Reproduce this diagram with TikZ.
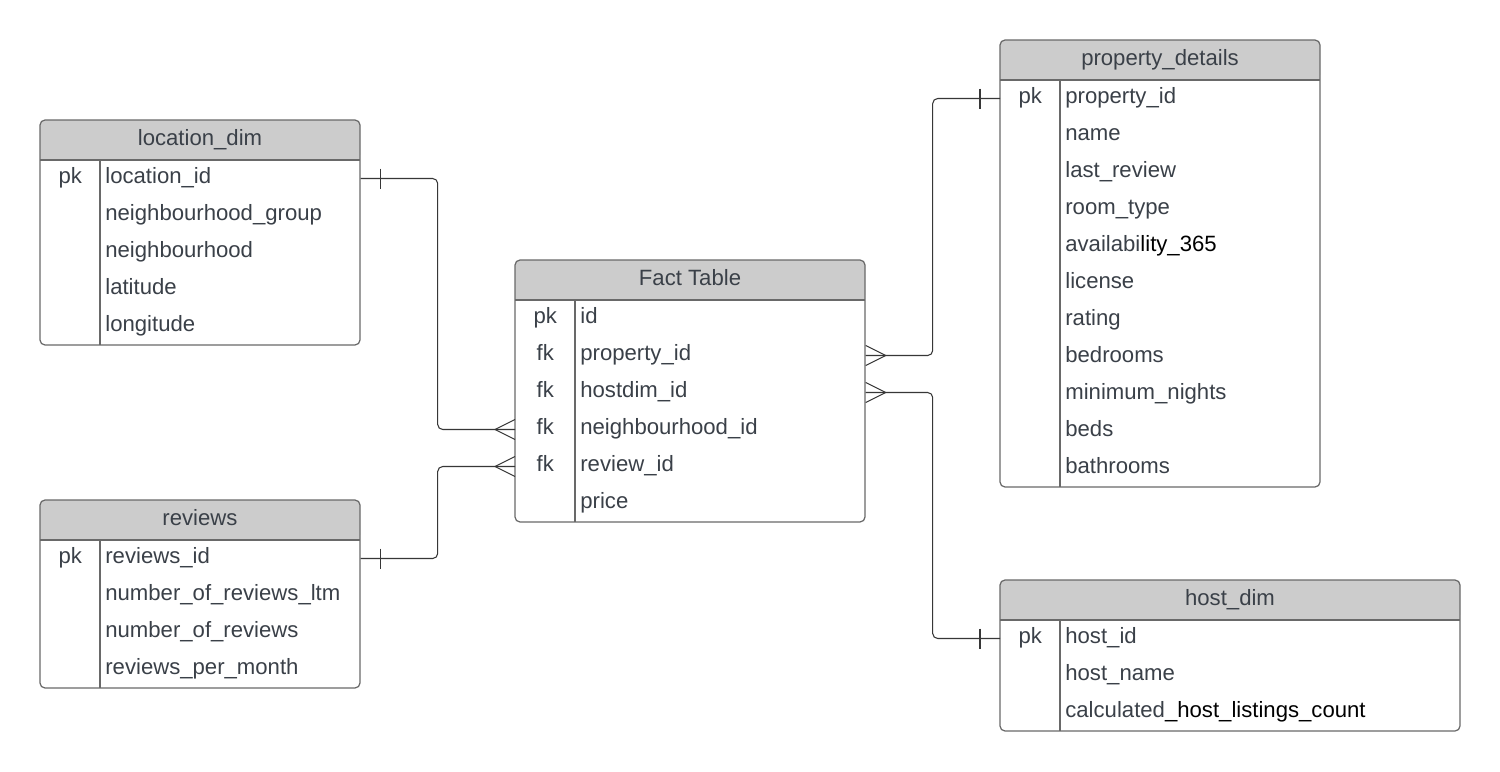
\documentclass[tikz,border=0pt]{standalone}
\usepackage{fontspec}
\setmainfont{Liberation Sans}
\usetikzlibrary{calc}
\definecolor{headgray}{RGB}{204,204,204}
\definecolor{framegray}{RGB}{105,105,105}
\definecolor{linedark}{RGB}{55,55,55}
\definecolor{textgray}{RGB}{58,64,72}
\tikzstyle{tbl-frame}=[draw=framegray,line width=0.7pt]
\tikzstyle{cell-text}=[font=\fontsize{12.6}{15}\selectfont,text=textgray,inner sep=0pt,text height=0.6em,text depth=0pt]
\tikzstyle{key-cell}=[cell-text,minimum width=1.2cm,anchor=west]
\tikzstyle{field-cell}=[cell-text,anchor=west,inner xsep=0.1cm,align=left]
\tikzstyle{conn}=[draw=linedark,line width=0.6pt]

% #1 name, #2 left, #3 top, #4 width, #5 title, #6 key/field rows
\newcommand{\erdtable}[6]{%
  \pgfmathsetmacro\fw{(#4-70)*0.02}
  \fill[headgray,rounded corners=0.1cm] (#2,#3) rectangle ({#2+#4},{#3+40});
  \fill[headgray] (#2,{#3+20}) rectangle ({#2+#4},{#3+40});
  \node[cell-text] (#1) at ({#2+#4/2},{#3+20}) {#5};
  \foreach \rk/\rf [count=\i] in {#6}{
    \node[key-cell] (#1-k\i) at (#2,{#3+21.5+37*\i}) {\rk};
    \node[field-cell,text width=\fw cm] (#1-f\i) at ({#2+60},{#3+21.5+37*\i}) {\rf};
    \xdef\nrows{\i}
  }
  \draw[tbl-frame,rounded corners=0.1cm] (#2,#3) rectangle ({#2+#4},{#3+40+37*\nrows});
  \draw[tbl-frame] (#2,{#3+40}) -- ({#2+#4},{#3+40});
  \draw[tbl-frame] ({#2+60},{#3+40}) -- ({#2+60},{#3+40+37*\nrows});
}

\begin{document}
\begin{tikzpicture}[x=0.02cm,y=-0.02cm]
    \useasboundingbox (0,0) rectangle (1500,771);
    \fill[white] (0,0) rectangle (1500,771);

    \erdtable{loc}{40}{120}{320}{location\_dim}{pk/location\_id, /neighbourhood\_group, /neighbourhood, /latitude, /longitude}
    \erdtable{rev}{40}{500}{320}{reviews}{pk/reviews\_id, /number\_of\_reviews\_ltm, /number\_of\_reviews, /reviews\_per\_month}
    \erdtable{fact}{515}{260}{350}{Fact Table}{pk/id, fk/property\_id, fk/hostdim\_id, fk/neighbourhood\_id, fk/review\_id, /price}
    \erdtable{prop}{1000}{40}{320}{property\_details}{pk/property\_id, /name, /last\_review, /room\_type, /availabi\textcolor{black}{lity\_365}, /license, /rating, /bedrooms, /minimum\_nights, /beds, /bathrooms}
    \erdtable{host}{1000}{580}{460}{host\_dim}{pk/host\_id, /host\_name, /calculated\textcolor{black}{\_host\_listings\_count}}

    % location_dim -> fact
    \draw[conn,rounded corners=0.1cm] (loc-f1.east) -- ++(77,0) |- (fact-k4.west);
    \draw[conn] ($(loc-f1.east)+(20,-10)$) -- ++(0,20);
    \draw[conn] ($(fact-k4.west)+(0,-10)$) -- ++(-20,10) -- ++(20,10);

    % reviews -> fact
    \draw[conn,rounded corners=0.1cm] (rev-f1.east) -- ++(77,0) |- (fact-k5.west);
    \draw[conn] ($(rev-f1.east)+(20,-10)$) -- ++(0,20);
    \draw[conn] ($(fact-k5.west)+(0,-10)$) -- ++(-20,10) -- ++(20,10);

    % fact -> property_details
    \draw[conn,rounded corners=0.1cm] (fact-f2.east) -- ++(67,0) |- (prop-k1.west);
    \draw[conn] ($(fact-f2.east)+(0,-10)$) -- ++(20,10) -- ++(-20,10);
    \draw[conn] ($(prop-k1.west)+(-20,-10)$) -- ++(0,20);

    % fact -> host_dim
    \draw[conn,rounded corners=0.1cm] (fact-f3.east) -- ++(67,0) |- (host-k1.west);
    \draw[conn] ($(fact-f3.east)+(0,-10)$) -- ++(20,10) -- ++(-20,10);
    \draw[conn] ($(host-k1.west)+(-20,-10)$) -- ++(0,20);
\end{tikzpicture}
\end{document}
